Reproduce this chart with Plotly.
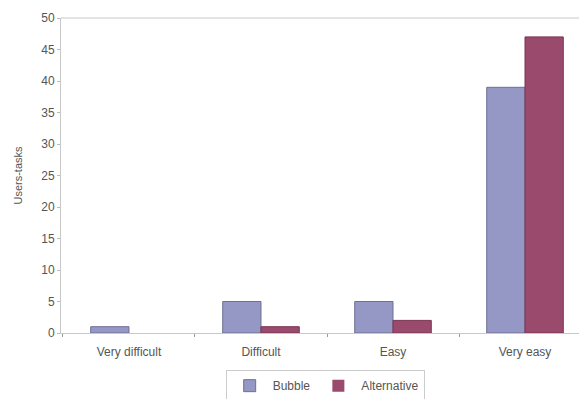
import plotly.graph_objects as go

categories = ["Very difficult", "Difficult", "Easy", "Very easy"]
bubble = [1, 5, 5, 39]
alternative = [0, 1, 2, 47]
y_ticks = [0, 5, 10, 15, 20, 25, 30, 35, 40, 45, 50]

alt_line_w = [0 if v == 0 else 1 for v in alternative]

fig = go.Figure()
fig.add_trace(go.Bar(x=categories, y=bubble, name="Bubble",
                     marker=dict(color="#9598C4", line=dict(color="#6E6F94", width=1))))
fig.add_trace(go.Bar(x=categories, y=alternative, name="Alternative",
                     marker=dict(color="#9A4A6D", line=dict(color="#7A3553", width=alt_line_w))))

fig.update_layout(
    width=581, height=399,
    margin=dict(l=61, r=2, t=18, b=66, autoexpand=False),
    plot_bgcolor="white", paper_bgcolor="white",
    barmode="group", bargap=0.42, bargroupgap=0,
    font=dict(family="Liberation Sans, Arial", size=12, color="#555555"),
    showlegend=True,
    legend=dict(orientation="h", x=0.51, xanchor="center", y=-0.118, yanchor="top",
                bordercolor="#CCCCCC", borderwidth=1, font=dict(size=12, color="#555555"),
                itemwidth=36),
    shapes=[dict(type="line", xref="paper", yref="paper", x0=0, x1=1, y0=1, y1=1,
                 line=dict(color="#C8C8C8", width=1))],
)
fig.update_xaxes(
    type="category", range=[-0.515, 3.409], automargin=False,
    showline=True, linecolor="#C8C8C8", linewidth=1, mirror=False,
    ticks="outside", tickson="boundaries", ticklen=3, tickcolor="#999999",
    showgrid=False, tickfont=dict(size=12, color="#555555"),
    ticklabelstandoff=8,
)
fig.update_yaxes(
    range=[0, 50], tickvals=y_ticks, showgrid=False, zeroline=False, automargin=False,
    showline=True, linecolor="#C8C8C8", linewidth=1, mirror=False,
    ticks="outside", ticklen=3, tickcolor="#BBBBBB",
    title=dict(text="Users-tasks", font=dict(size=11, color="#555555"), standoff=16),
    tickfont=dict(size=12, color="#555555"),
)

fig.write_html("out.html")
